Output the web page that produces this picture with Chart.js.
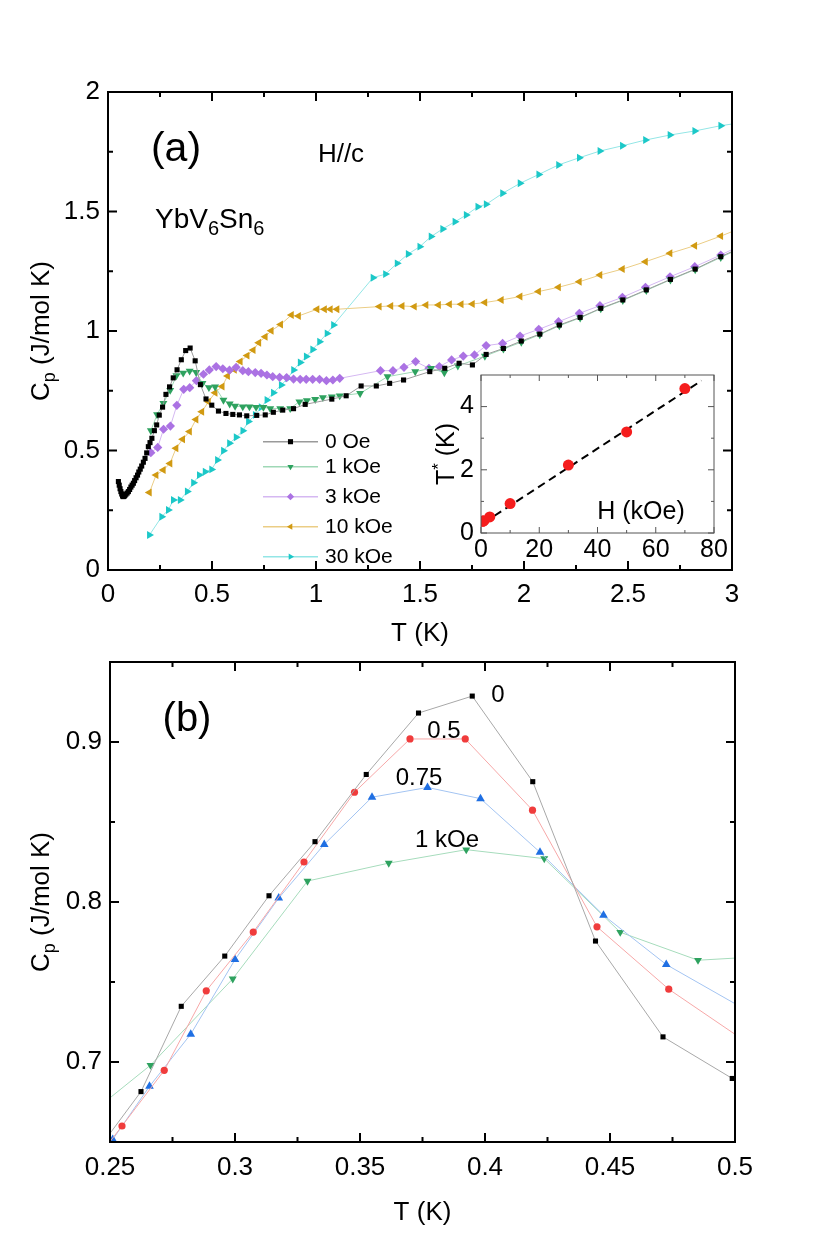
<!DOCTYPE html>
<html>
<head>
<meta charset="utf-8">
<script src="https://cdn.jsdelivr.net/npm/chart.js@4.4.1/dist/chart.umd.min.js"></script>
<style>
  body { margin: 0; background: #fff; }
  #wrap { position: relative; width: 830px; height: 1246px; }
  canvas { position: absolute; }
</style>
</head>
<body>
<div id="wrap">
  <canvas id="chartA" width="830" height="650" style="left:0px;top:0px"></canvas>
  <canvas id="chartB" width="830" height="624" style="left:0px;top:622px"></canvas>
  <canvas id="chartInset" width="360" height="230" style="left:400px;top:340px"></canvas>
</div>
<script>
// ---- panel (a): Cp vs T for several fields (H//c) ----
const T_0Oe = [0.050,0.054,0.058,0.062,0.066,0.070,0.073,0.077,0.081,0.086,0.092,0.098,0.104,0.110,0.116,0.122,0.128,0.135,0.142,0.148,0.155,0.162,0.170,0.178,0.186,0.194,0.202,0.211,0.223,0.234,0.2465,0.2624,0.2785,0.2959,0.3136,0.3320,0.3525,0.3734,0.3949,0.4191,0.4442,0.4712,0.4989,0.531,0.567,0.600,0.632,0.667,0.715,0.756,0.795,0.840,0.892,0.948,1.076,1.145,1.217,1.290,1.354,1.421,1.547,1.619,1.688,1.752,1.818,1.901,1.987,2.076,2.170,2.270,2.369,2.475,2.588,2.704,2.823,2.946,3.07];
const Cp_0Oe = [0.370,0.355,0.340,0.328,0.318,0.310,0.307,0.308,0.312,0.317,0.322,0.328,0.337,0.347,0.355,0.363,0.374,0.386,0.397,0.410,0.422,0.435,0.451,0.467,0.490,0.516,0.533,0.551,0.583,0.607,0.648,0.6815,0.7348,0.7662,0.8039,0.8377,0.8797,0.9181,0.9287,0.8752,0.7756,0.7157,0.6897,0.665,0.655,0.651,0.649,0.645,0.647,0.649,0.660,0.669,0.675,0.693,0.715,0.729,0.770,0.770,0.781,0.795,0.830,0.844,0.865,0.858,0.902,0.927,0.958,0.987,1.025,1.057,1.095,1.130,1.172,1.216,1.259,1.311,1.360];

const T_1kOe = [0.206,0.236,0.2662,0.2991,0.3290,0.3615,0.3925,0.4237,0.4541,0.4852,0.515,0.555,0.585,0.611,0.648,0.680,0.712,0.747,0.780,0.828,0.876,0.920,0.956,0.996,1.033,1.076,1.114,1.212,1.344,1.477,1.553,1.617,1.682,1.812,1.901,1.987,2.076,2.170,2.270,2.369,2.475,2.588,2.704,2.823,2.946,3.07];
const Cp_1kOe = [0.583,0.650,0.698,0.752,0.8131,0.8243,0.8327,0.8271,0.7811,0.7636,0.7663,0.711,0.695,0.686,0.683,0.683,0.681,0.681,0.676,0.676,0.676,0.704,0.709,0.714,0.722,0.725,0.729,0.739,0.809,0.830,0.844,0.826,0.854,0.895,0.925,0.953,0.985,1.022,1.055,1.093,1.128,1.170,1.214,1.257,1.308,1.358];

const T_3kOe = [0.206,0.239,0.267,0.300,0.331,0.364,0.393,0.425,0.459,0.487,0.520,0.552,0.584,0.616,0.648,0.675,0.708,0.736,0.764,0.792,0.825,0.859,0.892,0.924,0.953,0.984,1.017,1.050,1.081,1.114,1.310,1.370,1.423,1.479,1.543,1.593,1.652,1.708,1.762,1.818,1.897,1.981,2.071,2.166,2.266,2.365,2.473,2.584,2.702,2.821,2.946,3.07];
const Cp_3kOe = [0.491,0.513,0.589,0.602,0.689,0.756,0.763,0.792,0.819,0.837,0.851,0.842,0.836,0.848,0.834,0.830,0.826,0.823,0.816,0.809,0.806,0.805,0.799,0.798,0.798,0.798,0.798,0.792,0.795,0.802,0.834,0.834,0.848,0.872,0.844,0.851,0.879,0.895,0.900,0.939,0.948,0.979,1.007,1.039,1.074,1.106,1.141,1.183,1.227,1.269,1.318,1.370];

const T_10kOe = [0.199,0.231,0.266,0.298,0.327,0.359,0.392,0.423,0.451,0.483,0.515,0.549,0.575,0.608,0.636,0.669,0.698,0.725,0.756,0.785,0.830,0.882,0.916,1.005,1.041,1.069,1.101,1.304,1.360,1.414,1.473,1.529,1.589,1.642,1.698,1.752,1.812,1.891,1.981,2.070,2.166,2.266,2.365,2.473,2.584,2.702,2.821,2.946,3.07];
const Cp_10kOe = [0.324,0.397,0.418,0.446,0.509,0.547,0.579,0.630,0.662,0.704,0.742,0.768,0.812,0.838,0.872,0.897,0.920,0.951,0.976,1.001,1.027,1.067,1.063,1.091,1.091,1.091,1.091,1.102,1.105,1.105,1.102,1.109,1.109,1.112,1.112,1.113,1.119,1.130,1.144,1.165,1.183,1.206,1.234,1.259,1.290,1.325,1.357,1.397,1.440];

const T_30kOe = [0.199,0.258,0.290,0.314,0.347,0.381,0.411,0.439,0.467,0.498,0.526,0.555,0.584,0.616,0.648,0.675,0.708,0.736,0.764,0.795,0.833,0.864,0.892,0.924,0.953,0.984,1.017,1.053,1.084,1.274,1.334,1.390,1.443,1.499,1.553,1.609,1.668,1.722,1.778,1.818,1.897,1.981,2.071,2.166,2.266,2.365,2.473,2.584,2.702,2.821,2.946,3.07];
const Cp_30kOe = [0.146,0.223,0.251,0.293,0.293,0.328,0.365,0.397,0.411,0.421,0.460,0.499,0.530,0.555,0.583,0.621,0.649,0.681,0.711,0.742,0.774,0.802,0.837,0.868,0.893,0.923,0.955,0.990,1.025,1.223,1.238,1.283,1.322,1.353,1.395,1.427,1.457,1.485,1.520,1.530,1.576,1.618,1.655,1.695,1.725,1.753,1.775,1.799,1.820,1.837,1.859,1.875];

// ---- panel (b): zoom on the peak ----
const Tb_0 = [0.2465,0.2624,0.2785,0.2959,0.3136,0.3320,0.3525,0.3734,0.3949,0.4191,0.4442,0.4712,0.4989,0.531];
const Cpb_0 = [0.648,0.6815,0.7348,0.7662,0.8039,0.8377,0.8797,0.9181,0.9287,0.8752,0.7756,0.7157,0.6897,0.662];
const Tb_05 = [0.238,0.2548,0.2717,0.2885,0.3073,0.3276,0.3478,0.3700,0.3921,0.4190,0.4448,0.4735,0.505];
const Cpb_05 = [0.626,0.660,0.6948,0.7445,0.7812,0.825,0.8686,0.9019,0.9019,0.8574,0.7845,0.7455,0.712];
const Tb_075 = [0.236,0.2511,0.2658,0.2823,0.3000,0.3175,0.3357,0.3548,0.3770,0.3982,0.4220,0.4474,0.4725,0.505];
const Cpb_075 = [0.618,0.6516,0.6848,0.7174,0.764,0.8025,0.836,0.8655,0.8716,0.8646,0.8311,0.7917,0.7609,0.732];
const Tb_1 = [0.236,0.2662,0.2991,0.3290,0.3615,0.3925,0.4237,0.4541,0.4852,0.515];
const Cpb_1 = [0.660,0.698,0.752,0.8131,0.8243,0.8327,0.8271,0.7811,0.7636,0.7663];

// ---- inset: T* vs H ----
const H_field = [0.5, 0.75, 1, 3, 10, 30, 50, 70];
const T_star = [0.37, 0.375, 0.39, 0.51, 0.93, 2.15, 3.2, 4.57];
const fit_H = [0.9, 75.7];
const fit_T = [0.32, 4.82];

// ---- ticks ----
const ticksAX = [0, 0.5, 1, 1.5, 2, 2.5, 3];
const labelsAX = ['0', '0.5', '1', '1.5', '2', '2.5', '3'];
const minorAX = [0.25, 0.75, 1.25, 1.75, 2.25, 2.75];
const ticksAY = [0, 0.5, 1, 1.5, 2];
const labelsAY = ['0', '0.5', '1', '1.5', '2'];
const minorAY = [0.25, 0.75, 1.25, 1.75];
const ticksBX = [0.25, 0.3, 0.35, 0.4, 0.45, 0.5];
const labelsBX = ['0.25', '0.3', '0.35', '0.4', '0.45', '0.5'];
const minorBX = [0.275, 0.325, 0.375, 0.425, 0.475];
const ticksBY = [0.7, 0.8, 0.9];
const labelsBY = ['0.7', '0.8', '0.9'];
const minorBY = [0.75, 0.85];
const ticksIX = [0, 20, 40, 60, 80];
const labelsIX = ['0', '20', '40', '60', '80'];
const minorIX = [10, 30, 50, 70];
const ticksIY = [0, 2, 4];
const labelsIY = ['0', '2', '4'];
const minorIY = [1, 3];

const FONT = "'Liberation Sans', Arial, Helvetica, sans-serif";
Chart.defaults.font.family = FONT;
Chart.defaults.color = '#000';

const pts = (xs, ys) => xs.map((x, i) => ({ x: x, y: ys[i] }));

function series(label, xs, ys, color, lineColor, style, rot, r) {
  return {
    label: label,
    data: pts(xs, ys),
    showLine: true,
    borderColor: lineColor,
    borderWidth: 1,
    backgroundColor: color,
    pointBackgroundColor: color,
    pointBorderColor: color,
    pointBorderWidth: 0,
    pointStyle: style,
    pointRotation: rot,
    pointRadius: r,
    pointHoverRadius: r,
    tension: 0,
    clip: 0
  };
}

function axis(min, max, ticks, labels, fontSize, pad, fit, isX, title, titlePad) {
  return {
    type: 'linear',
    min: min,
    max: max,
    grid: { display: false, drawTicks: false },
    border: { display: false },
    afterBuildTicks: s => { s.ticks = ticks.map(v => ({ value: v })); },
    afterFit: s => { if (isX) s.height = fit; else s.width = fit; },
    ticks: {
      autoSkip: false, maxRotation: 0, padding: pad,
      font: { size: fontSize }, color: '#000',
      callback: (v, i) => labels[i]
    },
    title: title
      ? { display: true, text: title, color: '#000', font: { size: 26 }, padding: { top: 0, bottom: titlePad } }
      : { display: false }
  };
}

// box + inward ticks on all four sides
const frameTicks = {
  id: 'frameTicks',
  afterDatasetsDraw(chart, args, o) {
    const { ctx, chartArea: a } = chart;
    const sx = chart.scales.x, sy = chart.scales.y;
    ctx.save();
    ctx.strokeStyle = o.color;
    ctx.lineWidth = o.width;
    ctx.strokeRect(a.left, a.top, a.right - a.left, a.bottom - a.top);
    ctx.beginPath();
    const xt = (vals, len) => vals.forEach(v => {
      const p = sx.getPixelForValue(v);
      ctx.moveTo(p, a.bottom); ctx.lineTo(p, a.bottom - len);
      ctx.moveTo(p, a.top); ctx.lineTo(p, a.top + len);
    });
    const yt = (vals, len) => vals.forEach(v => {
      const p = sy.getPixelForValue(v);
      ctx.moveTo(a.left, p); ctx.lineTo(a.left + len, p);
      ctx.moveTo(a.right, p); ctx.lineTo(a.right - len, p);
    });
    xt(o.xMajor, o.major); xt(o.xMinor, o.minor);
    yt(o.yMajor, o.major); yt(o.yMinor, o.minor);
    ctx.stroke();
    ctx.restore();
  }
};

// text with sub/superscripts
const richText = {
  id: 'richText',
  afterDraw(chart, args, o) {
    const ctx = chart.ctx;
    o.items.forEach(it => {
      ctx.save();
      ctx.translate(it.x, it.y);
      if (it.rot) ctx.rotate(it.rot * Math.PI / 180);
      ctx.fillStyle = '#000';
      ctx.textBaseline = 'alphabetic';
      ctx.textAlign = 'left';
      let w = 0;
      it.parts.forEach(p => { ctx.font = p[1] + 'px ' + FONT; w += ctx.measureText(p[0]).width; });
      let cx = it.align === 'left' ? 0 : -w / 2;
      it.parts.forEach(p => {
        ctx.font = p[1] + 'px ' + FONT;
        ctx.fillText(p[0], cx, p[2] || 0);
        cx += ctx.measureText(p[0]).width;
      });
      ctx.restore();
    });
  }
};

function marker(ctx, style, rot, r, x, y) {
  ctx.save();
  ctx.translate(x, y);
  ctx.rotate(rot * Math.PI / 180);
  ctx.beginPath();
  if (style === 'rect') {
    const s = r * Math.SQRT1_2;
    ctx.rect(-s, -s, 2 * s, 2 * s);
  } else if (style === 'rectRot') {
    ctx.moveTo(0, -r); ctx.lineTo(r, 0); ctx.lineTo(0, r); ctx.lineTo(-r, 0); ctx.closePath();
  } else if (style === 'triangle') {
    ctx.moveTo(0, -r); ctx.lineTo(r * 0.866, r * 0.5); ctx.lineTo(-r * 0.866, r * 0.5); ctx.closePath();
  } else {
    ctx.arc(0, 0, r, 0, 2 * Math.PI);
  }
  ctx.fill();
  ctx.restore();
}

// legend: short line + marker + label
const fieldLegend = {
  id: 'fieldLegend',
  afterDraw(chart, args, o) {
    const ctx = chart.ctx;
    chart.data.datasets.forEach((ds, i) => {
      const y = o.rows[i];
      ctx.save();
      ctx.strokeStyle = ds.borderColor;
      ctx.lineWidth = 1.5;
      ctx.beginPath(); ctx.moveTo(o.x0, y); ctx.lineTo(o.x1, y); ctx.stroke();
      ctx.fillStyle = ds.pointBackgroundColor;
      marker(ctx, ds.pointStyle, ds.pointRotation, o.r, (o.x0 + o.x1) / 2, y);
      ctx.fillStyle = '#000';
      ctx.font = o.size + 'px ' + FONT;
      ctx.textBaseline = 'middle';
      ctx.fillText(ds.label, o.xText, y + 1);
      ctx.restore();
    });
  }
};

const BLACK = '#000000', GREEN = '#2ea25f', PURPLE = '#ab72e3', GOLD = '#d19a12', CYAN = '#1cc8c8';
const RED = '#f03c3c', BLUE = '#1f6fe3';

// ---------- panel (a) ----------
new Chart(document.getElementById('chartA'), {
  type: 'scatter',
  data: {
    datasets: [
      series('0 Oe', T_0Oe, Cp_0Oe, BLACK, '#9a9a9a', 'rect', 0, 3.6),
      series('1 kOe', T_1kOe, Cp_1kOe, GREEN, '#9fd8b6', 'triangle', 180, 4.6),
      series('3 kOe', T_3kOe, Cp_3kOe, PURPLE, '#d5b8f2', 'rectRot', 0, 4.6),
      series('10 kOe', T_10kOe, Cp_10kOe, GOLD, '#ebcd85', 'triangle', -90, 4.6),
      series('30 kOe', T_30kOe, Cp_30kOe, CYAN, '#93e6e6', 'triangle', 90, 4.6)
    ]
  },
  options: {
    responsive: false,
    animation: false,
    events: [],
    layout: { padding: { left: 0, right: 98, top: 92, bottom: 0 } },
    scales: {
      x: axis(0, 3, ticksAX, labelsAX, 26, 9, 80, true, 'T (K)', 1),
      y: axis(0, 2, ticksAY, labelsAY, 26, 8, 108, false)
    },
    plugins: {
      legend: { display: false },
      tooltip: { enabled: false },
      frameTicks: { color: '#000', width: 2, major: 9, minor: 5,
        xMajor: ticksAX, xMinor: minorAX, yMajor: ticksAY, yMinor: minorAY },
      fieldLegend: { x0: 263, x1: 318, xText: 325, r: 3.6, size: 21,
        rows: [441.7, 466.7, 496.7, 526.7, 556.7] },
      richText: { items: [
        { x: 176, y: 161, parts: [['(a)', 41]] },
        { x: 341, y: 162, parts: [['H//c', 26]] },
        { x: 155, y: 228, align: 'left', parts: [['YbV', 28], ['6', 20, 7], ['Sn', 28], ['6', 20, 7]] },
        { x: 49, y: 331, rot: -90, parts: [['C', 26], ['p', 18, 6], [' (J/mol K)', 26]] }
      ] }
    }
  },
  plugins: [frameTicks, fieldLegend, richText]
});

// ---------- inset ----------
new Chart(document.getElementById('chartInset'), {
  type: 'scatter',
  data: {
    datasets: [
      { label: 'T*', data: pts(H_field, T_star), pointStyle: 'circle', pointRadius: 5.5,
        pointBackgroundColor: '#f51d1d', pointBorderWidth: 0, showLine: false, clip: 0 },
      { label: 'fit', data: pts(fit_H, fit_T), showLine: true, borderColor: '#000', borderWidth: 2,
        borderDash: [8, 5], pointRadius: 0, clip: 0 }
    ]
  },
  options: {
    responsive: false,
    animation: false,
    events: [],
    layout: { padding: { left: 0, right: 46, top: 35, bottom: 0 } },
    scales: {
      x: axis(0, 80, ticksIX, labelsIX, 25, 2, 37, true),
      y: axis(0, 5, ticksIY, labelsIY, 25, 7, 81, false)
    },
    plugins: {
      legend: { display: false },
      tooltip: { enabled: false },
      frameTicks: { color: '#555', width: 1, major: 6, minor: 3,
        xMajor: ticksIX, xMinor: minorIX, yMajor: ticksIY, yMinor: minorIY },
      richText: { items: [
        { x: 241, y: 179, parts: [['H (kOe)', 25]] },
        { x: 54, y: 114, rot: -90, parts: [['T', 25], ['*', 17, -10], [' (K)', 25]] }
      ] }
    }
  },
  plugins: [frameTicks, richText]
});

// ---------- panel (b) ----------
new Chart(document.getElementById('chartB'), {
  type: 'scatter',
  data: {
    datasets: [
      series('0', Tb_0, Cpb_0, BLACK, '#a8a8a8', 'rect', 0, 3.6),
      series('0.5', Tb_05, Cpb_05, RED, '#f7a8a8', 'circle', 0, 3.6),
      series('0.75', Tb_075, Cpb_075, BLUE, '#a3c4f2', 'triangle', 0, 5),
      series('1 kOe', Tb_1, Cpb_1, GREEN, '#a6dcbc', 'triangle', 180, 4.6)
    ]
  },
  options: {
    responsive: false,
    animation: false,
    events: [],
    layout: { padding: { left: 0, right: 95, top: 40, bottom: 0 } },
    scales: {
      x: axis(0.25, 0.5, ticksBX, labelsBX, 26, 10, 104, true, 'T (K)', 18),
      y: axis(0.65, 0.95, ticksBY, labelsBY, 26, 8, 110, false)
    },
    plugins: {
      legend: { display: false },
      tooltip: { enabled: false },
      frameTicks: { color: '#000', width: 2, major: 9, minor: 5,
        xMajor: ticksBX, xMinor: minorBX, yMajor: ticksBY, yMinor: minorBY },
      richText: { items: [
        { x: 187, y: 109, parts: [['(b)', 40]] },
        { x: 498, y: 80, parts: [['0', 24]] },
        { x: 444, y: 116, parts: [['0.5', 24]] },
        { x: 419, y: 163, parts: [['0.75', 24]] },
        { x: 447, y: 225, parts: [['1 kOe', 24]] },
        { x: 49, y: 280, rot: -90, parts: [['C', 26], ['p', 18, 6], [' (J/mol K)', 26]] }
      ] }
    }
  },
  plugins: [frameTicks, richText]
});
</script>
</body>
</html>
